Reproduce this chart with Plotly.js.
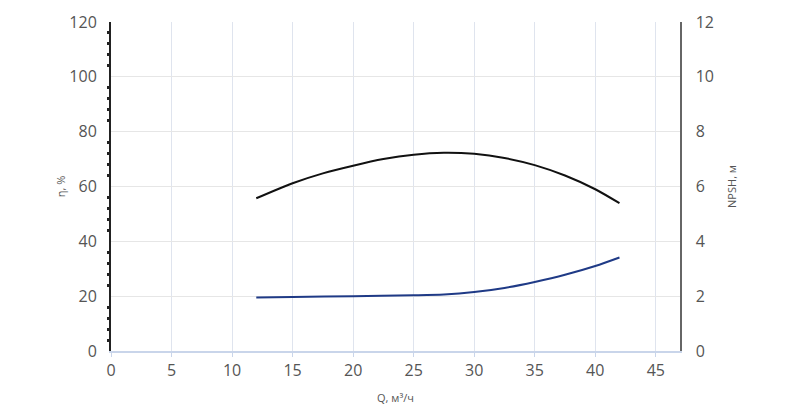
<!DOCTYPE html>
<html>
<head>
<meta charset="utf-8">
<script src="https://cdn.plot.ly/plotly-3.0.1.min.js"></script>
<style>
  html, body { margin: 0; padding: 0; background: #fff; }
  #chart { width: 800px; height: 408px; }
</style>
</head>
<body>
<div id="chart"></div>
<script>
// efficiency curve, η %
var effQ = [12, 15, 17.5, 20, 22.5, 25, 27.5, 30, 32.5, 35, 37.5, 40, 42];
var effVal = [55.7, 61.2, 64.8, 67.6, 70.0, 71.6, 72.3, 71.9, 70.4, 67.8, 64.0, 59.0, 53.9];

// NPSH curve, m
var npshQ = [12, 15, 20, 25, 27.5, 30, 32.5, 35, 37.5, 40, 42];
var npshVal = [1.95, 1.97, 2.0, 2.03, 2.06, 2.15, 2.3, 2.52, 2.78, 3.1, 3.41];

var font = 'Open Sans, sans-serif';
var tickCol = '#555';

Plotly.newPlot('chart', [
  {
    x: effQ, y: effVal, type: 'scatter', mode: 'lines',
    line: { color: '#111', width: 2, shape: 'spline', smoothing: 0.8 },
    hoverinfo: 'skip', showlegend: false
  },
  {
    x: npshQ, y: npshVal, type: 'scatter', mode: 'lines', yaxis: 'y2',
    line: { color: '#1f3a86', width: 2, shape: 'spline', smoothing: 0.8 },
    hoverinfo: 'skip', showlegend: false
  }
], {
  width: 800, height: 408,
  margin: { l: 111, r: 120, t: 22, b: 56.5 },
  paper_bgcolor: '#fff', plot_bgcolor: '#fff',
  font: { family: font, color: tickCol },
  xaxis: {
    range: [0, 47], dtick: 5, tick0: 0,
    showgrid: true, gridcolor: '#dfe4ee', gridwidth: 1,
    zeroline: false, showline: true, linecolor: '#c9d5ea', linewidth: 1.5,
    ticks: 'outside', ticklen: 4, tickcolor: '#c9d5ea',
    tickfont: { size: 16, color: tickCol, family: font },
    title: { text: 'Q, м³/ч', font: { size: 11, color: tickCol, family: font }, standoff: 14 }
  },
  yaxis: {
    range: [0, 120], dtick: 20,
    showgrid: true, gridcolor: '#e6e6e6', gridwidth: 1,
    zeroline: false, showline: true, linecolor: '#222', linewidth: 2,
    ticks: '', ticklabelstandoff: 9,
    minor: { dtick: 4, ticks: 'outside', ticklen: 2, tickwidth: 3, tickcolor: '#222', showgrid: false },
    tickfont: { size: 16, color: tickCol, family: font },
    title: { text: 'η, %', font: { size: 11, color: tickCol, family: font }, standoff: 1 }
  },
  yaxis2: {
    range: [0, 12], dtick: 2, overlaying: 'y', side: 'right',
    showgrid: false, zeroline: false, showline: true, linecolor: '#666', linewidth: 1.5,
    ticks: '', ticklabelstandoff: 11,
    tickfont: { size: 16, color: tickCol, family: font },
    title: { text: 'NPSH, м', font: { size: 11, color: tickCol, family: font }, standoff: 15 }
  }
}, { displayModeBar: false, staticPlot: true });
</script>
</body>
</html>
